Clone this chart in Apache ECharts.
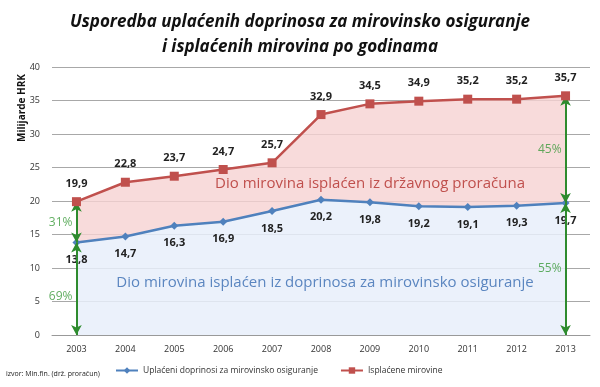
<!DOCTYPE html>
<html><head><meta charset="utf-8">
<script src="https://cdn.jsdelivr.net/npm/echarts@6/dist/echarts.min.js"></script>
<style>html,body{margin:0;padding:0;background:#fff}#c{width:600px;height:387px}</style>
</head><body><div id="c"></div>
<script>
var years = ['2003','2004','2005','2006','2007','2008','2009','2010','2011','2012','2013'];
var uplaceni = [13.8,14.7,16.3,16.9,18.5,20.2,19.8,19.2,19.1,19.3,19.7];
var isplacene = [19.9,22.8,23.7,24.7,25.7,32.9,34.5,34.9,35.2,35.2,35.7];
var pctFirst = ['31%','69%'];
var pctLast = ['45%','55%'];
var yTicks = [0,5,10,15,20,25,30,35,40];

var diff = isplacene.map(function(v,i){return +(v-uplaceni[i]).toFixed(2);});
var last = years.length-1;
var GREEN = '#2e8b2e';
var font = '"Open Sans", "Liberation Sans", sans-serif';
function fmt(p){return String(p.value).replace('.',',');}

var chart = echarts.init(document.getElementById('c'));
chart.setOption({
  animation:false,
  textStyle:{fontFamily:font},
  title:{
    text:'Usporedba uplaćenih doprinosa za mirovinsko osiguranje\ni isplaćenih mirovina po godinama',
    left:'center', top:5,
    textStyle:{fontSize:17,fontStyle:'italic',fontWeight:'bold',color:'#111',lineHeight:25,fontFamily:font}
  },
  grid:{left:52,right:10,top:67,bottom:52},
  legend:{
    bottom:7,left:110,itemWidth:22,itemHeight:8,itemGap:22,
    textStyle:{fontSize:8.5,color:'#333'},
    data:['Uplaćeni doprinosi za mirovinsko osiguranje','Isplaćene mirovine']
  },
  xAxis:{
    type:'category',data:years,boundaryGap:true,
    axisLine:{lineStyle:{color:'#999'}},axisTick:{show:false},
    axisLabel:{fontSize:9,color:'#333',margin:10}
  },
  yAxis:{
    type:'value',min:yTicks[0],max:yTicks[yTicks.length-1],interval:5,
    axisLine:{show:false},axisTick:{show:false},
    axisLabel:{fontSize:9,color:'#333',margin:12},
    splitLine:{lineStyle:{color:'#a8a8a8'}}
  },
  graphic:[
    {type:'text',left:6,top:370,style:{text:'izvor: Min.fin. (drž. proračun)',fontSize:7,fill:'#222',fontFamily:font}},
    {type:'text',x:22,y:108,rotation:Math.PI/2,style:{text:'Milijarde HRK',fontSize:10,fontWeight:'bold',fill:'#111',align:'center',verticalAlign:'middle',fontFamily:font}},
    {type:'text',x:370,y:184,style:{text:'Dio mirovina isplaćen iz državnog proračuna',fontSize:15,fill:'#c0504d',align:'center',verticalAlign:'middle',fontFamily:font},z:10},
    {type:'text',x:325,y:283,style:{text:'Dio mirovina isplaćen iz doprinosa za mirovinsko osiguranje',fontSize:15,fill:'#5b86c0',align:'center',verticalAlign:'middle',fontFamily:font},z:10}
  ],
  series:[
    {
      name:'Uplaćeni doprinosi za mirovinsko osiguranje',type:'line',stack:'s',data:uplaceni,
      symbol:'diamond',symbolSize:8,
      lineStyle:{color:'#4f81bd',width:2.5},itemStyle:{color:'#4f81bd'},
      areaStyle:{color:'#e8effa',opacity:0.85},
      label:{show:true,position:'bottom',distance:8,fontSize:11,fontWeight:'bold',color:'#222',formatter:fmt},
      z:4
    },
    {
      name:'razlika',type:'line',stack:'s',data:diff,symbol:'none',
      lineStyle:{width:0},areaStyle:{color:'#f6d2d2',opacity:0.8},silent:true,z:2,
      markLine:{
        silent:true,symbol:['arrow','arrow'],symbolSize:[8,10],
        lineStyle:{color:GREEN,width:2,type:'solid'},label:{show:false},
        data:[
          [{coord:[0,isplacene[0]]},{coord:[0,uplaceni[0]]}],
          [{coord:[0,uplaceni[0]]},{coord:[0,0]}],
          [{coord:[last,isplacene[last]]},{coord:[last,uplaceni[last]]}],
          [{coord:[last,uplaceni[last]]},{coord:[last,0]}]
        ]
      }
    },
    {
      name:'Isplaćene mirovine',type:'line',data:isplacene,
      symbol:'rect',symbolSize:9,
      lineStyle:{color:'#c0504d',width:2.5},itemStyle:{color:'#c0504d'},
      label:{show:true,position:'top',distance:8,fontSize:11,fontWeight:'bold',color:'#222',formatter:fmt},
      z:5
    },
    {
      name:'pct',type:'scatter',symbolSize:0,silent:true,z:6,
      data:[
        {value:[0,(isplacene[0]+uplaceni[0])/2],label:{formatter:pctFirst[0]}},
        {value:[0,uplaceni[0]*0.42],label:{formatter:pctFirst[1]}},
        {value:[last,(isplacene[last]+uplaceni[last])/2],label:{formatter:pctLast[0]}},
        {value:[last,uplaceni[last]/2],label:{formatter:pctLast[1]}}
      ],
      label:{show:true,position:'left',distance:4,fontSize:12,color:'#3a9a3a'}
    }
  ]
});
</script></body></html>
